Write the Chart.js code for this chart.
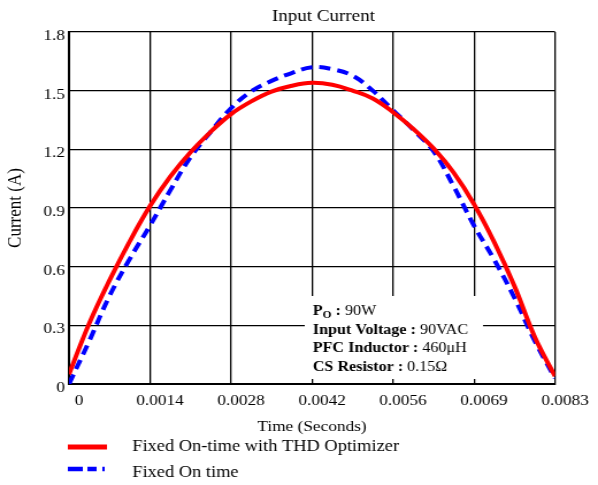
<!DOCTYPE html>
<html>
<head>
<meta charset="utf-8">
<script src="https://cdn.jsdelivr.net/npm/chart.js@4.4.1/dist/chart.umd.min.js"></script>
<style>
  html, body { margin: 0; padding: 0; background: #fff; overflow: hidden; }
  /* the source plot is stretched sideways, so draw narrower and widen the box */
  #wrap { width: 520px; height: 485px; transform: scaleX(1.15); transform-origin: 0 0; }
</style>
</head>
<body>
<div id="wrap"><canvas id="chart"></canvas></div>
<script>
const timeValues = [
  0, 0.000347, 0.000694, 0.001042, 0.001389, 0.001736, 0.002083, 0.002431, 0.002778,
  0.003125, 0.003472, 0.003819, 0.004167, 0.004514, 0.004861, 0.005208, 0.005556,
  0.005903, 0.00625, 0.006597, 0.006944, 0.007292, 0.007639, 0.007986, 0.008333
];
const thdOptimizer = [
  0.05, 0.31, 0.53, 0.73, 0.91, 1.06, 1.185, 1.29, 1.38, 1.445, 1.495, 1.525, 1.54,
  1.53, 1.50, 1.46, 1.39, 1.305, 1.205, 1.08, 0.92, 0.725, 0.50, 0.24, 0.04
];
const fixedOnTime = [
  0, 0.22, 0.45, 0.64, 0.81, 0.99, 1.16, 1.29, 1.41, 1.497, 1.55, 1.59, 1.62,
  1.61, 1.577, 1.50, 1.40, 1.30, 1.19, 1.01, 0.81, 0.635, 0.44, 0.22, 0.03
];
const xTickValues = [0, 0.001389, 0.002778, 0.004167, 0.005556, 0.006944, 0.008333];
const xTickLabels = ['0', '0.0014', '0.0028', '0.0042', '0.0056', '0.0069', '0.0083'];
const yTickValues = [0, 0.3, 0.6, 0.9, 1.2, 1.5, 1.8];
const yTickLabels = ['0', '0.3', '0.6', '0.9', '1.2', '1.5', '1.8'];

// label, subscript, value
const conditions = [
  ['P', 'O', '90W'],
  ['Input Voltage', '', '90VAC'],
  ['PFC Inductor', '', '460\u03bcH'],
  ['CS Resistor', '', '0.15\u03a9']
];

const SERIF = "'Liberation Serif', 'Times New Roman', serif";

const toPoints = (values) => values.map((v, i) => ({ x: timeValues[i], y: v }));

const extras = {
  id: 'extras',
  afterDatasetsDraw(chart) {
    const { ctx, chartArea } = chart;
    const left = chartArea.left + 205;
    const top = chartArea.top + 264;

    ctx.save();
    ctx.fillStyle = '#fff';
    ctx.fillRect(left, top, 155, 83);

    ctx.fillStyle = '#000';
    ctx.textBaseline = 'alphabetic';
    ctx.textAlign = 'left';
    conditions.forEach((row, i) => {
      const y = top + 19 + i * 18.7;
      let x = left + 7;
      ctx.font = `bold 14px ${SERIF}`;
      ctx.fillText(row[0], x, y);
      x += ctx.measureText(row[0]).width;
      if (row[1]) {
        ctx.font = `bold 10px ${SERIF}`;
        ctx.fillText(row[1], x, y + 3);
        x += ctx.measureText(row[1]).width;
        ctx.font = `bold 14px ${SERIF}`;
      }
      ctx.fillText(' : ', x, y);
      x += ctx.measureText(' : ').width;
      ctx.font = `14px ${SERIF}`;
      ctx.fillText(row[2], x, y);
    });
    ctx.restore();
  },
  afterDraw(chart) {
    const { ctx, chartArea } = chart;
    ctx.save();

    // title
    ctx.fillStyle = '#000';
    ctx.font = `16.5px ${SERIF}`;
    ctx.textAlign = 'center';
    ctx.textBaseline = 'middle';
    ctx.fillText('Input Current', (chartArea.left + chartArea.right) / 2 + 10, 17);

    // legend, stacked under the axis
    const rows = [447, 469];
    const textRows = [447, 473];
    const sampleDash = [[], [13, 4, 8, 5, 2, 0]];
    chart.data.datasets.forEach((ds, i) => {
      ctx.strokeStyle = ds.borderColor;
      ctx.lineWidth = i === 0 ? 5 : 4.5;
      ctx.setLineDash(sampleDash[i]);
      ctx.beginPath();
      ctx.moveTo(59, rows[i]);
      ctx.lineTo(i === 0 ? 93 : 91, rows[i]);
      ctx.stroke();
      ctx.setLineDash([]);
      ctx.font = `16px ${SERIF}`;
      ctx.textAlign = 'left';
      ctx.fillText(ds.label, 115, textRows[i]);
    });
    ctx.restore();
  }
};

new Chart(document.getElementById('chart'), {
  type: 'line',
  data: {
    datasets: [
      {
        label: 'Fixed On-time with THD Optimizer',
        data: toPoints(thdOptimizer),
        borderColor: '#ff0000',
        borderWidth: 4,
        pointRadius: 0,
        tension: 0.4
      },
      {
        label: 'Fixed On time',
        data: toPoints(fixedOnTime),
        borderColor: '#0000ff',
        borderWidth: 4,
        borderDash: [10, 6],
        pointRadius: 0,
        tension: 0.4
      }
    ]
  },
  options: {
    responsive: true,
    maintainAspectRatio: false,
    animation: false,
    layout: { padding: { top: 32, right: 37.4, bottom: 45, left: 0 } },
    plugins: {
      legend: { display: false },
      title: { display: false },
      tooltip: { enabled: false }
    },
    scales: {
      x: {
        type: 'linear',
        min: 0,
        max: 0.008333,
        afterFit: (scale) => { scale.height = 56; },
        afterBuildTicks: (scale) => { scale.ticks = xTickValues.map(v => ({ value: v })); },
        grid: { color: '#000', lineWidth: 1.3, drawTicks: false },
        border: { color: '#000', width: 2 },
        ticks: {
          color: '#000',
          font: { family: SERIF, size: 15 },
          padding: 8,
          labelOffset: 8.7,
          maxRotation: 0,
          autoSkip: false,
          callback: (v, i) => xTickLabels[i]
        },
        title: {
          display: true,
          text: 'Time (Seconds)',
          color: '#000',
          font: { family: SERIF, size: 15 },
          padding: { top: 0, bottom: 4 }
        }
      },
      y: {
        min: 0,
        max: 1.8,
        afterFit: (scale) => { scale.width = 60; },
        afterBuildTicks: (scale) => { scale.ticks = yTickValues.map(v => ({ value: v })); },
        grid: { color: '#000', lineWidth: 1.3, drawTicks: false },
        border: { color: '#000', width: 2 },
        ticks: {
          color: '#000',
          font: { family: SERIF, size: 15 },
          padding: 3.5,
          labelOffset: 4,
          autoSkip: false,
          callback: (v, i) => yTickLabels[i]
        },
        title: {
          display: true,
          text: 'Current (A)',
          color: '#000',
          font: { family: SERIF, size: 17 },
          padding: { top: 3.5, bottom: 0 }
        }
      }
    }
  },
  plugins: [extras]
});
</script>
</body>
</html>
